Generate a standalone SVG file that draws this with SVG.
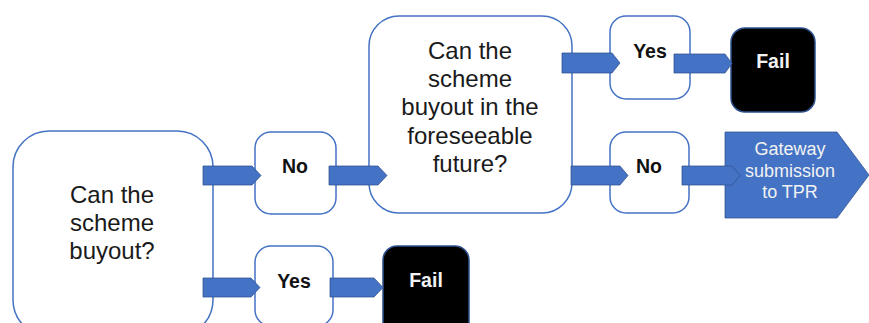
<svg xmlns="http://www.w3.org/2000/svg" width="869" height="323" viewBox="0 0 869 323">
<style>
.q{fill:#fff;stroke:#4472C4;stroke-width:1.5}
.fail{fill:#000;stroke:#2F528F;stroke-width:1.5}
.arr{fill:#4472C4;stroke:#2F528F;stroke-width:0.75}
.big{font-family:"Liberation Sans",Arial,sans-serif;font-size:24px;fill:#1a1a1a;text-anchor:middle}
.lab{font-family:"Liberation Sans",Arial,sans-serif;font-size:19.5px;font-weight:bold;fill:#111;text-anchor:middle}
.wl{font-family:"Liberation Sans",Arial,sans-serif;font-size:19.5px;font-weight:bold;fill:#f2f2f2;text-anchor:middle}
.gw{font-family:"Liberation Sans",Arial,sans-serif;font-size:18px;fill:#f2f2f2;text-anchor:middle}
</style>
<rect width="869" height="323" fill="#fff"/>
<g id="q1">
<rect class="q" x="13" y="131" width="200" height="205" rx="36"/>
<text class="big"><tspan x="112" y="203">Can the</tspan><tspan x="112" y="231">scheme</tspan><tspan x="112" y="259">buyout?</tspan></text>
</g>
<g id="no1">
<rect class="q" x="255" y="132" width="81" height="82" rx="16"/>
<text class="lab" x="295" y="173">No</text>
</g>
<g id="yes1">
<rect class="q" x="255" y="246" width="78" height="80" rx="16"/>
<text class="lab" x="294" y="288">Yes</text>
</g>
<g id="fail1">
<rect class="fail" x="383" y="246" width="86" height="90" rx="14"/>
<text class="wl" x="426" y="287">Fail</text>
</g>
<g id="q2">
<rect class="q" x="369" y="16" width="203" height="197" rx="30"/>
<text class="big"><tspan x="470" y="59">Can the</tspan><tspan x="470" y="87">scheme</tspan><tspan x="470" y="115">buyout in the</tspan><tspan x="470" y="144">foreseeable</tspan><tspan x="470" y="172">future?</tspan></text>
</g>
<g id="yes2">
<rect class="q" x="610" y="16" width="80" height="83" rx="16"/>
<text class="lab" x="650" y="58">Yes</text>
</g>
<g id="fail2">
<rect class="fail" x="731" y="28" width="84" height="84" rx="14"/>
<text class="wl" x="773" y="68">Fail</text>
</g>
<g id="no2">
<rect class="q" x="610" y="132" width="79" height="81" rx="16"/>
<text class="lab" x="649" y="173">No</text>
</g>
<g id="gateway">
<polygon points="725,132 837,132 869,175 837,218 725,218" fill="#4472C4" stroke="#2F528F" stroke-width="0.75"/>
<text class="gw"><tspan x="790" y="155">Gateway</tspan><tspan x="790" y="177">submission</tspan><tspan x="790" y="198">to TPR</tspan></text>
</g>
<g id="connectors">
<polygon class="arr" points="203,166 252,166 261,175.5 252,185 203,185"/>
<polygon class="arr" points="329,166 378,166 387,175.5 378,185 329,185"/>
<polygon class="arr" points="203,278 251,278 260,287.5 251,297 203,297"/>
<polygon class="arr" points="330,278 374,278 383,287.5 374,297 330,297"/>
<polygon class="arr" points="562,53 612,53 620,63 612,73 562,73"/>
<polygon class="arr" points="571,166 620,166 628,175.5 620,185 571,185"/>
<polygon class="arr" points="674,54 725,54 732,63.5 725,73 674,73"/>
<polygon class="arr" points="682,166 732,166 740,175.5 732,185 682,185"/>
</g>
</svg>
